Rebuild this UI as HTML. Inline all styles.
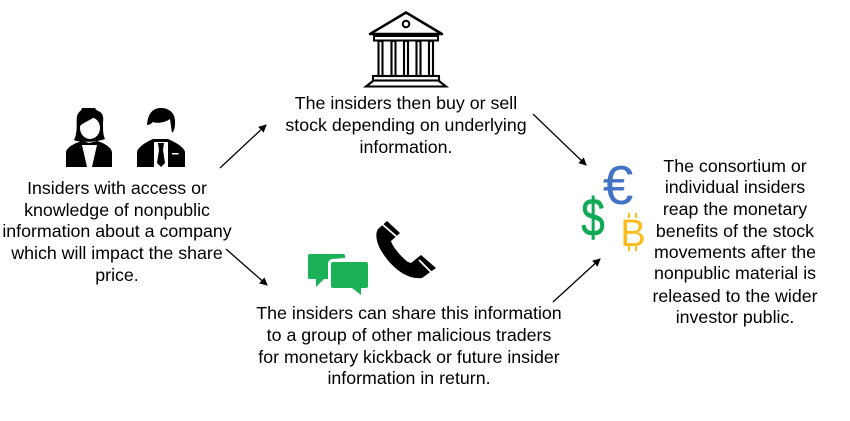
<!DOCTYPE html>
<html><head><meta charset="utf-8"><style>
html,body{margin:0;padding:0;background:#fff}
#c{position:relative;width:850px;height:421px;overflow:hidden;background:#fff;font-family:"Liberation Sans",sans-serif;font-size:17.8px;color:#000}
.l{position:absolute;white-space:nowrap;transform:translateX(-50%);line-height:20px}
svg{position:absolute;left:0;top:0}
</style></head><body><div id="c">
<svg width="850" height="421" viewBox="0 0 850 421">
<defs><marker id="a" markerWidth="9" markerHeight="8" refX="7" refY="4" orient="auto" markerUnits="userSpaceOnUse"><path d="M0 0L8 4L0 8z" fill="#000"/></marker></defs>
<g stroke="#000" stroke-width="1.300" fill="none">
<line x1="220" y1="168" x2="266" y2="125" marker-end="url(#a)"/>
<line x1="533" y1="114" x2="586" y2="165" marker-end="url(#a)"/>
<line x1="226" y1="249" x2="267" y2="285" marker-end="url(#a)"/>
<line x1="553" y1="302" x2="600" y2="259" marker-end="url(#a)"/>
</g>
<!-- woman -->
<path d="M74 140C78 132 76 122 77 116C79 110 84 108 90 108C94 108 97 110 98 111C102 112 104 116 103 122C103 130 103 135 105 139C98 142 80 143 74 140Z" fill="#000"/>
<ellipse cx="90" cy="128" rx="10" ry="11" fill="#fff"/>
<path d="M79 127C83 122 92 120 97 115L100 116L95 108L82 108L78 118Z" fill="#000"/>
<path d="M66 167L66 152C67 147 75 143 82 141L89 143L97 141C104 143 111 147 112 152L112 167Z" fill="#000"/>
<path d="M82 145L97 145L92 167L87 167Z" fill="#fff"/>
<!-- man -->
<ellipse cx="160" cy="127" rx="11" ry="11.500" fill="#fff"/>
<path d="M147 125C148 113 153 108 161 108C170 108 176 114 175 124C175 128 174 131 172 133L170 119C166 122 158 124 153 122C151 124 149 125 147 125Z" fill="#000"/>
<path d="M137 167L137 152C138 147 146 142 153 139L168 139C175 142 184 147 185 152L185 167Z" fill="#000"/>
<path d="M154 142L168 142L168 167L154 167Z" fill="#fff"/>
<path d="M158 143L164 143L163 150L165 163L161 167L157 163L159 150Z" fill="#000"/>
<rect x="172" y="153" width="6.500" height="1.500" fill="#fff"/>
<!-- bank -->
<path d="M406 12.500L370 34L442 34Z" fill="#fff" stroke="#000" stroke-width="2.500" stroke-linejoin="round"/>
<circle cx="406" cy="24" r="3.300" fill="none" stroke="#000" stroke-width="2"/>
<rect x="374" y="36" width="64" height="4.500" fill="#fff" stroke="#000" stroke-width="2"/>
<g fill="none" stroke="#000" stroke-width="2.100">
<rect x="378.500" y="41" width="4" height="35"/><rect x="391.500" y="41" width="4" height="35"/><rect x="404" y="41" width="4" height="35"/><rect x="416.500" y="41" width="4" height="35"/><rect x="429" y="41" width="4" height="35"/>
<rect x="373" y="76" width="66" height="4.500"/>
<path d="M373 81L366 86.500L446 86.500L439 81"/>
</g>
<!-- chat -->
<path d="M310 254L343 254Q345 254 345 256L345 258L332 259Q328 260 328 264L328 279L324 279L316 287L316 279L310 279Q308 279 308 277L308 256Q308 254 310 254Z" fill="#1bb257"/>
<path d="M333 262L366 262Q368 262 368 264L368 286Q368 288 366 288L361 288L361 295L352 288L333 288Q331 288 331 286L331 264Q331 262 333 262Z" fill="#1bb257"/>
<!-- phone -->
<path d="M387 221L400 233L391 241C392 246 402 258 408 262L411 263L421 255L436 268L422 278C405 280 390 265 382 252C376 243 375 233 378 229Z" fill="#000"/>
<path d="M382 224L397 237M419 260L432 273" stroke="#fff" stroke-width="1.800" fill="none"/>
<!-- money -->
<text x="618" y="204" text-anchor="middle" font-family="Liberation Sans" font-size="55" fill="#4472c4">€</text>
<text transform="translate(593 236) scale(.78 1)" text-anchor="middle" font-family="Liberation Sans" font-size="54" fill="#10a955" stroke="#10a955" stroke-width=".6">$</text>
<text x="633" y="246" text-anchor="middle" font-family="Liberation Sans" font-size="38" fill="#fbbc1c">B</text>
<g stroke="#fbbc1c" stroke-width="2"><path d="M629 213V218M636 213V218M629 246V251M636 246V251"/></g>
</svg>
<div class="l" style="left:406px;top:93px">The insiders then buy or sell</div>
<div class="l" style="left:406px;top:115px">stock depending on underlying</div>
<div class="l" style="left:406px;top:137px">information.</div>
<div class="l" style="left:117px;top:178px">Insiders with access or</div>
<div class="l" style="left:117px;top:200px">knowledge of nonpublic</div>
<div class="l" style="left:117px;top:221px">information about a company</div>
<div class="l" style="left:117px;top:243px">which will impact the share</div>
<div class="l" style="left:117px;top:265px">price.</div>
<div class="l" style="left:409px;top:303px">The insiders can share this information</div>
<div class="l" style="left:409px;top:325px">to a group of other malicious traders</div>
<div class="l" style="left:409px;top:347px">for monetary kickback or future insider</div>
<div class="l" style="left:409px;top:368px">information in return.</div>
<div class="l" style="left:735px;top:156px">The consortium or</div>
<div class="l" style="left:735px;top:177px">individual insiders</div>
<div class="l" style="left:735px;top:199px">reap the monetary</div>
<div class="l" style="left:735px;top:221px">benefits of the stock</div>
<div class="l" style="left:735px;top:242px">movements after the</div>
<div class="l" style="left:735px;top:263px">nonpublic material is</div>
<div class="l" style="left:735px;top:286px">released to the wider</div>
<div class="l" style="left:735px;top:307px">investor public.</div>
</div></body></html>
